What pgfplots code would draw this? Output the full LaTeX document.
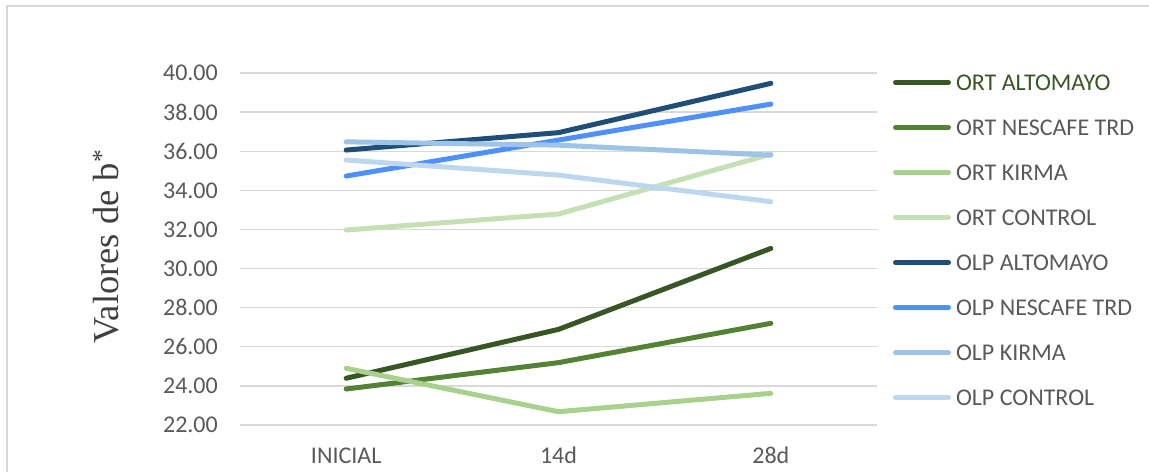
\documentclass[border=0pt]{standalone}
\usepackage{pgfplots}
\pgfplotsset{compat=1.18}
\usepackage{fontspec}
\setmainfont{Carlito}
\newfontfamily\serifaxis{Liberation Serif}

\definecolor{ortalto}{HTML}{375623}
\definecolor{ortnes}{HTML}{548235}
\definecolor{ortkir}{HTML}{A9D18E}
\definecolor{ortcon}{HTML}{C5E0B4}
\definecolor{olpalto}{HTML}{1F4E79}
\definecolor{olpnes}{HTML}{4D90FE}
\definecolor{olpkir}{HTML}{9DC3E6}
\definecolor{olpcon}{HTML}{BDD7EE}
\definecolor{txtgray}{HTML}{595959}
\definecolor{gridgray}{HTML}{D9D9D9}

\begin{document}
\begin{tikzpicture}
\useasboundingbox (0pt,0pt) rectangle (1149pt,-472pt);
% chart frame
\draw[gridgray, line width=1.5pt] (7pt,-472pt) -- (7pt,-6pt) -- (1149pt,-6pt);

\begin{axis}[
  at={(240pt,-425pt)}, anchor=south west,
  scale only axis, width=637pt, height=352pt,
  xmin=-0.5, xmax=2.5, ymin=22, ymax=40,
  xtick={0,1,2}, xticklabels={INICIAL,14d,28d},
  ytick={22,24,...,40},
  ymajorgrids, major grid style={gridgray, line width=1.3pt},
  axis line style={draw=none}, tick style={draw=none},
  /pgf/number format/assume math mode=true,
  yticklabel={\pgfmathprintnumber[fixed,fixed zerofill,precision=2]{\tick}},
  ticklabel style={font=\fontsize{24}{28}\selectfont, text=txtgray, inner sep=0pt},
  yticklabel style={anchor=east, xshift=-22pt},
  xticklabel style={anchor=north, yshift=-21pt, text height=17pt},
  legend cell align=left,
  legend style={
    at={(1.02512,1.0085)}, anchor=north west,
    draw=none, fill=none, inner sep=0pt, outer sep=0pt,
    row sep=20pt, column sep=5pt,
    font=\fontsize{24}{28}\selectfont, text=txtgray,
    nodes={inner sep=0pt, text height=20pt, text depth=5pt, anchor=west},
  },
  legend image code/.code={
    \path (0pt,0pt) -- (53pt,0pt);
    \draw[#1, line width=5pt, line cap=round] (2.5pt,0pt) -- (50.5pt,0pt);
  },
  every axis plot/.append style={line width=5pt, line cap=round, line join=round},
]
\addplot[ortalto] coordinates {(0,24.39) (1,26.89) (2,31.03)};
\addlegendentry{\textcolor{ortalto}{ORT ALTOMAYO}}
\addplot[ortnes] coordinates {(0,23.84) (1,25.19) (2,27.20)};
\addlegendentry{ORT NESCAFE TRD}
\addplot[ortkir] coordinates {(0,24.90) (1,22.68) (2,23.62)};
\addlegendentry{ORT KIRMA}
\addplot[ortcon] coordinates {(0,31.97) (1,32.79) (2,35.85)};
\addlegendentry{ORT CONTROL}
\addplot[olpalto] coordinates {(0,36.06) (1,36.95) (2,39.47)};
\addlegendentry{OLP ALTOMAYO}
\addplot[olpnes] coordinates {(0,34.73) (1,36.57) (2,38.41)};
\addlegendentry{OLP NESCAFE TRD}
\addplot[olpkir] coordinates {(0,36.48) (1,36.31) (2,35.80)};
\addlegendentry{OLP KIRMA}
\addplot[olpcon] coordinates {(0,35.55) (1,34.78) (2,33.42)};
\addlegendentry{OLP CONTROL}
\end{axis}

\node[rotate=90, inner sep=0pt, text=black!75, font=\serifaxis\fontsize{36.5}{42}\selectfont]
  at (106pt,-246.5pt) {Valores de b\textsuperscript{*}};
\end{tikzpicture}
\end{document}
